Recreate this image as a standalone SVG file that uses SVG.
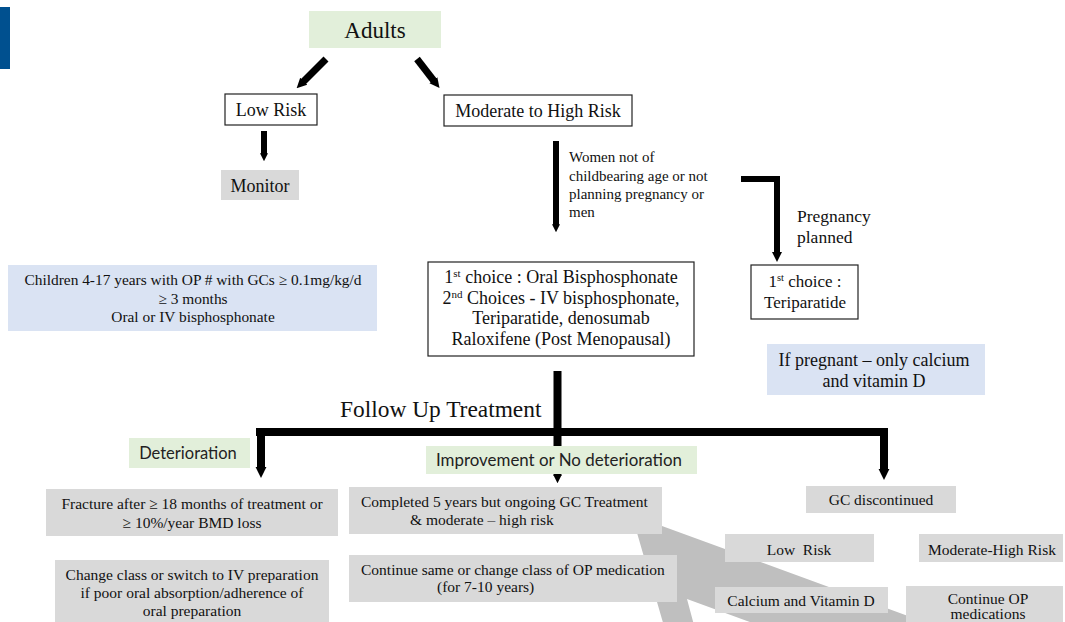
<svg xmlns="http://www.w3.org/2000/svg" width="1065" height="622" viewBox="0 0 1065 622">
<style>
.t{font-family:"Liberation Serif","Times New Roman",serif;fill:#111}
.s{font-family:"Lato","Liberation Sans",sans-serif;fill:#222}
.c{text-anchor:middle}
.w{fill:#fff;stroke:#222;stroke-width:1.2}
.g{fill:#d9d9d9}
.gr{fill:#e2efda}
.bl{fill:#dae3f3}
.ln{fill:none;stroke:#000}
</style>
<defs>
<marker id="ahs" viewBox="0 0 10 10" refX="1" refY="5" markerUnits="userSpaceOnUse" markerWidth="8" markerHeight="13" orient="auto"><path d="M0,0 L10,5 L0,10 z" fill="#000"/></marker>
<marker id="ahm" viewBox="0 0 10 10" refX="1" refY="5" markerUnits="userSpaceOnUse" markerWidth="10" markerHeight="16" orient="auto"><path d="M0,0 L10,5 L0,10 z" fill="#000"/></marker>
<marker id="ahl" viewBox="0 0 10 10" refX="1" refY="5" markerUnits="userSpaceOnUse" markerWidth="11" markerHeight="20" orient="auto"><path d="M0,0 L10,5 L0,10 z" fill="#000"/></marker>
</defs>
<rect x="0" y="7" width="10" height="62" fill="#00508f"/>
<polygon id="band" points="631,512 662,526 990,646 990,710 687,599 698,640 668,640" fill="#bfbfbf"/>
<g id="connectors">
<line class="ln" x1="326" y1="59" x2="303" y2="82" stroke-width="7" marker-end="url(#ahm)"/>
<line class="ln" x1="417" y1="59" x2="434" y2="81" stroke-width="7" marker-end="url(#ahm)"/>
<line class="ln" x1="264" y1="131" x2="264" y2="154" stroke-width="6" marker-end="url(#ahs)"/>
<line class="ln" x1="556" y1="141" x2="556" y2="225" stroke-width="6" marker-end="url(#ahs)"/>
<path class="ln" d="M741,179 H777 V253" stroke-width="6" stroke-linejoin="miter" marker-end="url(#ahm)"/>
<line class="ln" x1="557.5" y1="371" x2="557.5" y2="476" stroke-width="8" marker-end="url(#ahs)"/>
<line class="ln" x1="256" y1="432" x2="888" y2="432" stroke-width="8"/>
<line class="ln" x1="261" y1="432" x2="261" y2="468" stroke-width="8" marker-end="url(#ahl)"/>
<line class="ln" x1="884" y1="432" x2="884" y2="470" stroke-width="8" marker-end="url(#ahl)"/>
</g>
<g id="adults"><rect class="gr" x="309" y="11" width="132" height="37"/><text class="t c" x="375" y="38" font-size="23">Adults</text></g>
<g id="lowrisk"><rect class="w" x="225" y="94" width="92" height="31"/><text class="t c" x="271" y="116" font-size="18">Low Risk</text></g>
<g id="modhigh"><rect class="w" x="444" y="95" width="188" height="31"/><text class="t c" x="538" y="117" font-size="18">Moderate to High Risk</text></g>
<g id="monitor"><rect class="g" x="221" y="170" width="78" height="30"/><text class="t c" x="260" y="192" font-size="18">Monitor</text></g>
<g id="women-label"><text class="t" x="569" font-size="15"><tspan x="569" y="162">Women not of</tspan><tspan x="569" y="181">childbearing age or not</tspan><tspan x="569" y="199">planning pregnancy or</tspan><tspan x="569" y="217">men</tspan></text></g>
<g id="pregnancy-label"><text class="t" font-size="17.5"><tspan x="797" y="222">Pregnancy</tspan><tspan x="797" y="243">planned</tspan></text></g>
<g id="children"><rect class="bl" x="8" y="265" width="369" height="66"/><text class="t c" font-size="15.4"><tspan x="193" y="285">Children 4-17 years with OP # with GCs ≥ 0.1mg/kg/d</tspan><tspan x="193" y="304">≥ 3 months</tspan><tspan x="193" y="322">Oral or IV bisphosphonate</tspan></text></g>
<g id="firstchoice"><rect class="w" x="428" y="262" width="266" height="94"/><text class="t c" font-size="18"><tspan x="561" y="283">1<tspan font-size="11" dy="-6">st</tspan><tspan dy="6"> choice : Oral Bisphosphonate</tspan></tspan><tspan x="561" y="303.5">2<tspan font-size="11" dy="-6">nd</tspan><tspan dy="6"> Choices - IV bisphosphonate,</tspan></tspan><tspan x="561" y="324">Teriparatide, denosumab</tspan><tspan x="561" y="344.5">Raloxifene (Post Menopausal)</tspan></text></g>
<g id="teriparatide"><rect class="w" x="751" y="265" width="107" height="54"/><text class="t c" font-size="17"><tspan x="805" y="287">1<tspan font-size="10.5" dy="-6">st</tspan><tspan dy="6"> choice :</tspan></tspan><tspan x="805" y="308">Teriparatide</tspan></text></g>
<g id="pregnant"><rect class="bl" x="767" y="344" width="218" height="51"/><text class="t c" font-size="18"><tspan x="874" y="366">If pregnant – only calcium</tspan><tspan x="874" y="387">and vitamin D</tspan></text></g>
<g id="followup"><text class="t" x="340" y="417" font-size="23.4">Follow Up Treatment</text></g>
<g id="deterioration"><rect class="gr" x="129" y="438" width="121" height="30"/><text class="s c" x="188" y="459" font-size="16.5">Deterioration</text></g>
<g id="improvement"><rect class="gr" x="426" y="446" width="271" height="28"/><text class="s" x="436" y="466" font-size="16.9">Improvement or No deterioration</text></g>
<g id="fracture"><rect class="g" x="46" y="489" width="292" height="47"/><text class="t c" font-size="15.5"><tspan x="192" y="509">Fracture after ≥ 18 months of treatment or</tspan><tspan x="192" y="528">≥ 10%/year BMD loss</tspan></text></g>
<g id="changeclass"><rect class="g" x="55" y="560" width="274" height="64"/><text class="t c" font-size="15.5"><tspan x="192" y="580">Change class or switch to IV preparation</tspan><tspan x="192" y="598">if poor oral absorption/adherence of</tspan><tspan x="192" y="616">oral preparation</tspan></text></g>
<g id="completed"><rect class="g" x="349" y="487" width="313" height="47"/><text class="t" font-size="15.5"><tspan x="361" y="507">Completed 5 years but ongoing GC Treatment</tspan><tspan x="410" y="525">&amp; moderate – high risk</tspan></text></g>
<g id="continuesame"><rect class="g" x="349" y="555" width="328" height="47"/><text class="t" font-size="15.5"><tspan x="361" y="575">Continue same or change class of OP medication</tspan><tspan x="437" y="592">(for 7-10 years)</tspan></text></g>
<g id="gcdisc"><rect class="g" x="806" y="486" width="150" height="27"/><text class="t c" x="881" y="505" font-size="15.5">GC discontinued</text></g>
<g id="lowrisk2"><rect class="g" x="725" y="534" width="149" height="28"/><text class="t c" x="799" y="555" font-size="15.5" xml:space="preserve">Low  Risk</text></g>
<g id="modhigh2"><rect class="g" x="919" y="534" width="144" height="28"/><text class="t c" x="992" y="555" font-size="15.5">Moderate-High Risk</text></g>
<g id="calcium"><rect class="g" x="715" y="587" width="173" height="26"/><text class="t c" x="801" y="606" font-size="15.5">Calcium and Vitamin D</text></g>
<g id="continueop"><rect class="g" x="906" y="586" width="157" height="40"/><text class="t c" font-size="15.5"><tspan x="988" y="604">Continue OP</tspan><tspan x="988" y="619">medications</tspan></text></g>
</svg>
